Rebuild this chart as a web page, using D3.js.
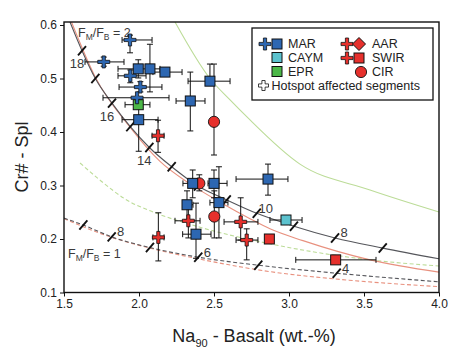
<!DOCTYPE html>
<html><head><meta charset="utf-8">
<script src="https://cdn.jsdelivr.net/npm/d3@7"></script>
<style>body{margin:0;background:#fff}svg{display:block;font-family:"Liberation Sans",Arial,sans-serif}</style>
</head><body><svg id="c" width="470" height="364"></svg>
<script>
// ---- data ----
const xTicks = [1.5, 2.0, 2.5, 3.0, 3.5, 4.0];
const yTicks = [0.1, 0.2, 0.3, 0.4, 0.5, 0.6];
// [x, y, xlo, xhi, ylo, yhi]
const marSquares = [
  [1.995,0.518,1.86,2.14,0.501,0.535],
  [2.073,0.518,null,null,0.475,0.564],
  [2.173,0.512,2.093,2.287,null,null],
  [2.473,0.495,2.327,2.607,0.495,0.527],
  [2.342,0.458,2.247,2.44,0.402,0.512],
  [1.998,0.423,1.887,2.127,0.364,0.45],
  [2.358,0.304,2.293,2.42,0.277,0.329],
  [2.5,0.304,2.46,2.587,0.277,0.329],
  [2.533,0.268,2.473,2.593,0.202,0.335],
  [2.86,0.312,2.647,2.993,0.282,0.34],
  [2.32,0.264,2.291,2.36,0.236,0.29],
  [2.38,0.209,2.291,2.48,0.164,0.267]
];
const marHotspot = [
  [1.94,0.572,1.887,2.087,0.548,0.581],
  [1.765,0.531,1.64,1.9,0.523,0.54],
  [1.942,0.505,1.86,2.047,0.492,0.516],
  [2.009,0.484,1.867,2.153,0.475,0.494],
  [1.987,0.464,1.76,2.2,null,null]
];
const eprSquares = [[1.995,0.451,1.907,2.073,null,null]];
const caymSquares = [[2.98,0.2355,2.873,3.087,null,null]];
const swirSquares = [[2.869,0.2,null,null,null,null],[3.311,0.161,3.045,3.58,null,null]];
const cirCircles = [
  [2.5,0.419,null,null,0.357,0.527],
  [2.402,0.304,null,null,0.29,0.32],
  [2.502,0.242,null,null,0.202,0.29]
];
const redHotspot = [
  [2.127,0.393,2.087,2.167,0.362,0.422],
  [2.329,0.234,2.24,2.407,0.202,0.262],
  [2.129,0.203,2.093,2.167,0.159,0.249],
  [2.678,0.232,2.567,2.793,0.198,0.277],
  [2.718,0.198,2.647,2.793,0.161,0.219]
];
// model curves
const curveF2Gray = [[1.54,0.6056],[1.62,0.552],[1.709,0.500],[1.82,0.454],[1.942,0.410],[2.069,0.371],[2.218,0.335],[2.393,0.299],[2.585,0.273],[2.785,0.248],[3.033,0.224],[3.307,0.202],[3.625,0.183],[4.0,0.163]];
const curveF2Salmon = [[1.55,0.6056],[1.71,0.502],[1.94,0.409],[2.14,0.345],[2.34,0.303],[2.553,0.267],[2.74,0.238],[2.873,0.219],[3.093,0.197],[3.54,0.161],[4.0,0.138]];
const curveF2Green = [[2.24,0.6056],[2.473,0.50],[2.607,0.46],[2.718,0.4286],[3.073,0.34],[3.54,0.2916],[4.0,0.2505]];
const curveF1Gray = [[1.5,0.239],[1.629,0.226],[1.818,0.204],[2.073,0.184],[2.395,0.166],[2.795,0.151],[3.318,0.136],[4.0,0.120]];
const curveF1Salmon = [[1.5,0.238],[1.818,0.203],[2.073,0.183],[2.395,0.163],[2.873,0.139],[3.4,0.123],[4.0,0.111]];
const curveF1Green = [[1.607,0.342],[1.74,0.31],[1.918,0.273],[2.118,0.248],[2.407,0.222],[2.873,0.191],[3.54,0.161],[4.0,0.1495]];
// melting-degree ticks [x, y, label]
const ticksF2 = [[1.62,0.552,"18"],[1.709,0.500,""],[1.82,0.454,"16"],[1.942,0.410,""],[2.069,0.371,"14"],[2.218,0.335,""],[2.393,0.299,""],[2.585,0.273,""],[2.785,0.248,"10"],[3.033,0.224,""],[3.307,0.202,"8"],[3.625,0.183,""]];
const ticksF1 = [[1.629,0.226,""],[1.818,0.204,"8"],[2.073,0.184,""],[2.395,0.166,"6"],[2.795,0.151,""],[3.318,0.136,"4"]];
const belowLabels = ["18","16","14"];

// ---- drawing ----
const C = {blue:"#2d67b2", red:"#e6302c", cyan:"#5cc2ce", green:"#4cb848",
  gray:"#55565b", salmon:"#e8917f", lgreen:"#bcdc98", ink:"#1a1a1a", txt:"#222"};
const svg = d3.select("#c");
const L = 64, R = 439, T = 22, B = 292.5;
const x = d3.scaleLinear().domain([1.5, 4.0]).range([L, R]);
const y = d3.scaleLinear().domain([0.1, 0.1 + (B - T) / 535]).range([B, T]);

svg.append("defs").append("clipPath").attr("id","clip")
  .append("rect").attr("x",L).attr("y",T).attr("width",R-L).attr("height",B-T);

const plot = svg.append("g").attr("clip-path","url(#clip)");
const line = d3.line().x(d=>x(d[0])).y(d=>y(d[1])).curve(d3.curveMonotoneX);
function curve(data, color, dashed){
  plot.append("path").datum(data).attr("d", line).attr("fill","none")
    .attr("stroke", color).attr("stroke-width",1.1)
    .attr("stroke-dasharray", dashed ? "4,2.5" : null);
}
curve(curveF2Green, C.lgreen, false);
curve(curveF1Green, C.lgreen, true);
curve(curveF2Salmon, C.salmon, false);
curve(curveF2Gray, C.gray, false);
curve(curveF1Salmon, C.salmon, true);
curve(curveF1Gray, C.gray, true);

function ticks(data){
  data.forEach(d=>{
    const px = x(d[0]), py = y(d[1]);
    plot.append("line").attr("x1",px-4).attr("y1",py+4.6).attr("x2",px+4).attr("y2",py-4.6)
      .attr("stroke","#111").attr("stroke-width",1.9);
    if(d[2]){
      const below = belowLabels.includes(d[2]);
      svg.append("text").attr("x", below ? px-5 : px+9).attr("y", below ? py+13 : py-5)
        .attr("text-anchor","middle").attr("dominant-baseline","central")
        .attr("font-size",13).attr("fill","#3a3a3a").text(d[2]);
    }
  });
}
ticks(ticksF2);
ticks(ticksF1);

function fLabel(px, py, val){
  const t = svg.append("text").attr("x",px).attr("y",py).attr("font-size",12.5).attr("fill","#3a3a3a");
  t.append("tspan").text("F");
  t.append("tspan").attr("font-size",8.5).attr("dy",3).text("M");
  t.append("tspan").attr("dy",-3).text("/F");
  t.append("tspan").attr("font-size",8.5).attr("dy",3).text("B");
  t.append("tspan").attr("dy",-3).text(" = " + val);
}
fLabel(78, 37, "2");
fLabel(68, 258, "1");

// error bars
const eb = svg.append("g").attr("stroke","#111").attr("stroke-width",1).attr("fill","none");
function errbars(data){
  data.forEach(d=>{
    const px = x(d[0]), py = y(d[1]);
    if(d[2]!=null){
      const a = x(d[2]), b = x(d[3]);
      eb.append("line").attr("x1",a).attr("x2",b).attr("y1",py).attr("y2",py);
      eb.append("line").attr("x1",a).attr("x2",a).attr("y1",py-3).attr("y2",py+3);
      eb.append("line").attr("x1",b).attr("x2",b).attr("y1",py-3).attr("y2",py+3);
    }
    if(d[4]!=null){
      const a = y(d[4]), b = y(d[5]);
      eb.append("line").attr("x1",px).attr("x2",px).attr("y1",a).attr("y2",b);
      eb.append("line").attr("x1",px-3).attr("x2",px+3).attr("y1",a).attr("y2",a);
      eb.append("line").attr("x1",px-3).attr("x2",px+3).attr("y1",b).attr("y2",b);
    }
  });
}
[marSquares, marHotspot, eprSquares, caymSquares, swirSquares, cirCircles, redHotspot].forEach(errbars);

function plusPath(l, t){
  return `M${-t},${-l}H${t}V${-t}H${l}V${t}H${t}V${l}H${-t}V${t}H${-l}V${-t}H${-t}Z`;
}
const mk = svg.append("g");
function square(g, px, py, col, s){
  g.append("rect").attr("x",px-s/2).attr("y",py-s/2).attr("width",s).attr("height",s)
    .attr("fill",col).attr("stroke","#111").attr("stroke-width",1);
}
function circle(g, px, py, col){
  g.append("circle").attr("cx",px).attr("cy",py).attr("r",5.6).attr("fill",col).attr("stroke","#111").attr("stroke-width",0.9);
}
function plus(g, px, py, col, l){
  g.append("path").attr("d",plusPath(l || 6,1.6)).attr("transform",`translate(${px},${py})`)
    .attr("fill",col).attr("stroke","#111").attr("stroke-width",0.8);
}
function diamond(g, px, py, col){
  g.append("path").attr("d","M0,-6.5L6.5,0L0,6.5L-6.5,0Z").attr("transform",`translate(${px},${py})`)
    .attr("fill",col).attr("stroke","#111").attr("stroke-width",1);
}
cirCircles.forEach(d=>circle(mk, x(d[0]), y(d[1]), C.red));
marSquares.forEach(d=>square(mk, x(d[0]), y(d[1]), C.blue, 10));
eprSquares.forEach(d=>square(mk, x(d[0]), y(d[1]), C.green, 10));
caymSquares.forEach(d=>square(mk, x(d[0]), y(d[1]), C.cyan, 10));
swirSquares.forEach(d=>square(mk, x(d[0]), y(d[1]), C.red, 10));
marHotspot.forEach(d=>plus(mk, x(d[0]), y(d[1]), C.blue));
redHotspot.forEach(d=>plus(mk, x(d[0]), y(d[1]), C.red));

// axes
const xa = svg.append("g").attr("transform",`translate(0,${B})`)
  .call(d3.axisBottom(x).tickValues(xTicks).tickSize(4).tickPadding(3).tickFormat(d3.format(".1f")));
const ya = svg.append("g").attr("transform",`translate(${L},0)`)
  .call(d3.axisLeft(y).tickValues(yTicks).tickSize(4).tickPadding(3).tickFormat(d3.format(".1f")));
[xa, ya].forEach(a=>{
  a.select(".domain").remove();
  a.selectAll("line").attr("stroke","#111").attr("stroke-width",1);
  a.selectAll("text").attr("font-size",12).attr("fill",C.txt).attr("font-family",'"Liberation Sans",Arial,sans-serif');
});
svg.append("rect").attr("x",L).attr("y",T).attr("width",R-L).attr("height",B-T)
  .attr("fill","none").attr("stroke","#111").attr("stroke-width",1.4);

// axis titles
const xt = svg.append("text").attr("x",254).attr("y",342).attr("text-anchor","middle")
  .attr("font-size",18).attr("fill",C.txt);
xt.append("tspan").text("Na");
xt.append("tspan").attr("font-size",11).attr("dy",5).text("90");
xt.append("tspan").attr("dy",-5).text(" - Basalt (wt.-%)");
svg.append("text").attr("transform","translate(28,157) rotate(-90)").attr("text-anchor","middle")
  .attr("font-size",18).attr("fill",C.txt).text("Cr# - Spl");

// legend
const lg = svg.append("g");
lg.append("rect").attr("x",252).attr("y",28).attr("width",181).attr("height",72)
  .attr("fill","#fff").attr("stroke","#111").attr("stroke-width",1.3);
function ltxt(px, py, s){
  lg.append("text").attr("x",px).attr("y",py).attr("dominant-baseline","central")
    .attr("font-size",12.5).attr("fill",C.txt).text(s);
}
plus(lg,265,44,C.blue); square(lg,277,44,C.blue,10); ltxt(288,44,"MAR");
square(lg,277,57.5,C.cyan,10); ltxt(288,57.5,"CAYM");
square(lg,277,71.5,C.green,10); ltxt(288,71.5,"EPR");
plus(lg,263.5,85.5,"#fff",5); ltxt(271.5,85.5,"Hotspot affected segments");
plus(lg,347,44,C.red); diamond(lg,359,44,C.red); ltxt(372,44,"AAR");
plus(lg,347,58,C.red); square(lg,359,58,C.red,10); ltxt(372,58,"SWIR");
circle(lg,361,72,C.red); ltxt(372,72,"CIR");
</script></body></html>
